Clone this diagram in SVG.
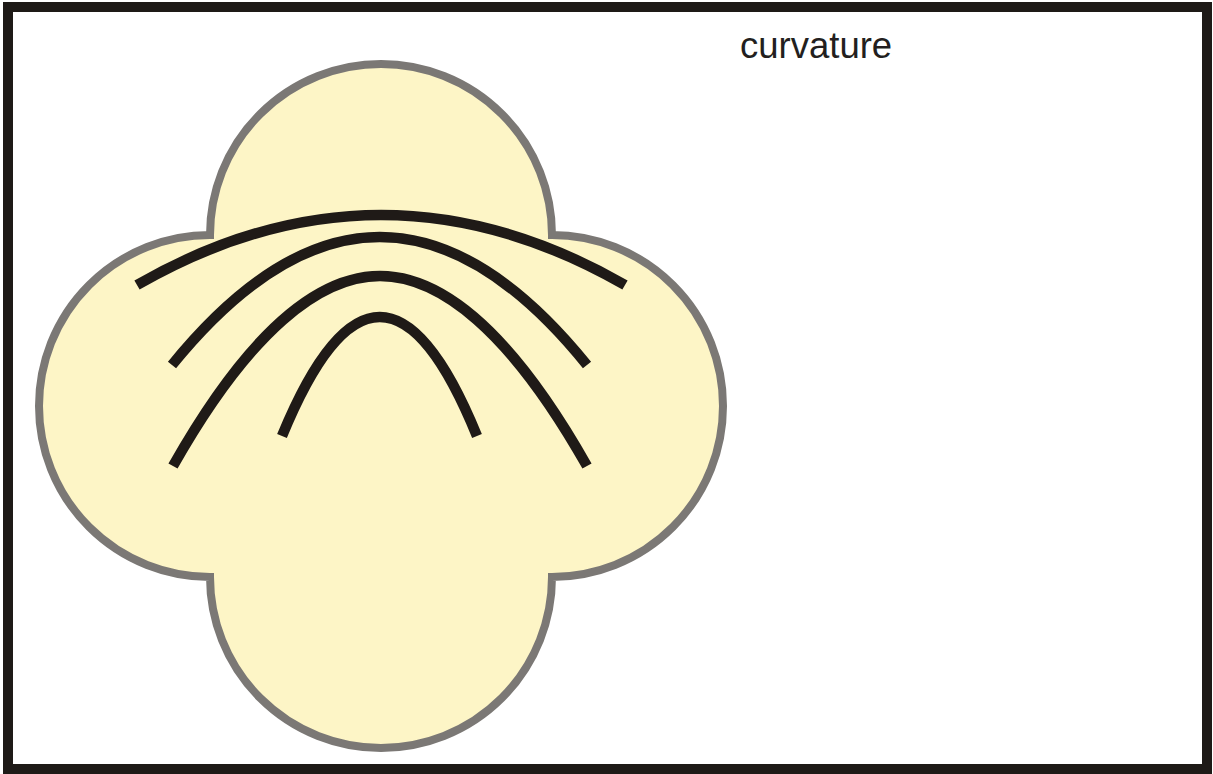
<svg xmlns="http://www.w3.org/2000/svg" width="1213" height="774" viewBox="0 0 1213 774">
  <style>
    .frame { fill: #ffffff; stroke: #1e1a17; stroke-width: 10; }
    .blob { fill: #fdf5c6; stroke: #7b7875; stroke-width: 8; stroke-linejoin: miter; }
    .arc { fill: none; stroke: #1f1a17; stroke-width: 10.5; stroke-linecap: butt; }
    .label { font-family: "Liberation Sans", Arial, sans-serif; font-size: 36.5px; fill: #231f20; }
  </style>
  <rect class="frame" x="8" y="7" width="1199" height="762"/>
  <g id="shape">
    <path class="blob" d="M 210 235 A 171 171 0 0 1 552 235 A 171 171 0 0 1 552 577 A 171 171 0 0 1 210 577 A 171 171 0 0 1 210 235 Z"/>
  </g>
  <g id="connectors">
    <path class="arc" d="M 137 285 Q 381 145 625 285"/>
    <path class="arc" d="M 172 365 Q 380 109 587 365"/>
    <path class="arc" d="M 173 466 C 250 330 320 276 380 276 C 440 276 510 330 587 466"/>
    <path class="arc" d="M 282 436 Q 380 198 477 436"/>
  </g>
  <g id="label">
    <text class="label" x="740" y="58">curvature</text>
  </g>
</svg>
